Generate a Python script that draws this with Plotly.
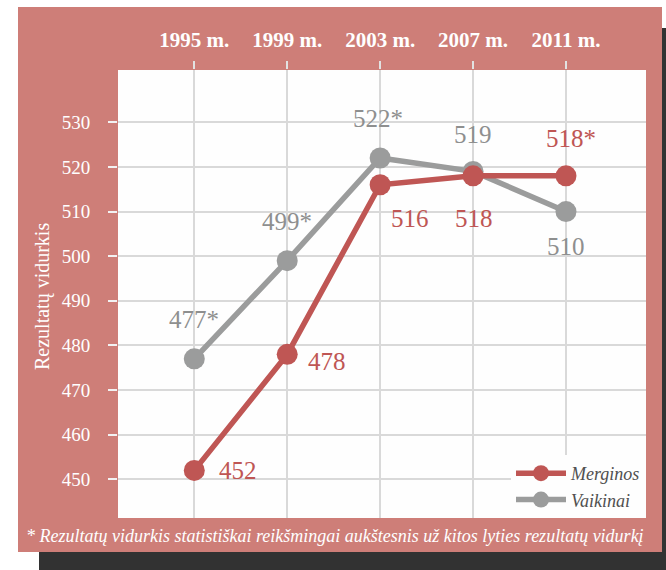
import plotly.graph_objects as go

years = ["1995 m.", "1999 m.", "2003 m.", "2007 m.", "2011 m."]
merginos = [452, 478, 516, 518, 518]
vaikinai = [477, 499, 522, 519, 510]
merginos_labels = ["452", "478", "516", "518", "518*"]
vaikinai_labels = ["477*", "499*", "522*", "519", "510"]
y_ticks = [450, 460, 470, 480, 490, 500, 510, 520, 530]

RED = "#BF5654"
GRAY = "#9B9C9C"
SALMON = "#CE7E78"
DARK = "#323232"
FONT = "Liberation Serif"

W, H = 666, 570
L, R, T, B = 118, 646, 70, 518
PW, PH = R - L, B - T


def px(x):
    return (x - L) / PW


def py(y):
    return (B - y) / PH


xi = list(range(len(years)))

fig = go.Figure()
fig.add_trace(go.Scatter(
    x=xi, y=vaikinai, name="Vaikinai", mode="lines+markers",
    line=dict(color=GRAY, width=5.5), marker=dict(color=GRAY, size=21),
    legendrank=2,
))
fig.add_trace(go.Scatter(
    x=xi, y=merginos, name="Merginos", mode="lines+markers",
    line=dict(color=RED, width=5.5), marker=dict(color=RED, size=21),
    legendrank=1,
))

# label offsets (pixels)
m_off = [(44, 0), (40, -7), (30, -34), (1, -43), (5, 37)]
v_off = [(0, 39), (0, 39), (-2, 40), (0, 37), (0, -35)]
annotations = []
for i, (v, t) in enumerate(zip(merginos, merginos_labels)):
    annotations.append(dict(x=i, y=v, xref="x", yref="y", text=t, showarrow=False,
                            xshift=m_off[i][0], yshift=m_off[i][1],
                            font=dict(family=FONT, size=25, color=RED)))
for i, (v, t) in enumerate(zip(vaikinai, vaikinai_labels)):
    annotations.append(dict(x=i, y=v, xref="x", yref="y", text=t, showarrow=False,
                            xshift=v_off[i][0], yshift=v_off[i][1],
                            font=dict(family=FONT, size=25, color="#8E8F8F")))

annotations.append(dict(x=px(42), y=py(297), xref="paper", yref="paper",
                        xanchor="center", yanchor="middle",
                        text="Rezultatų vidurkis", textangle=-90, showarrow=False,
                        font=dict(family=FONT, size=20, color="white")))
annotations.append(dict(x=px(335), y=py(536), xref="paper", yref="paper",
                        xanchor="center", yanchor="middle",
                        text="<i>* Rezultatų vidurkis statistiškai reikšmingai aukštesnis už kitos lyties rezultatų vidurkį</i>",
                        showarrow=False,
                        font=dict(family=FONT, size=18, color="white")))

shapes = [
    dict(type="rect", xref="paper", yref="paper", x0=px(39), x1=px(667), y0=py(571), y1=py(552),
         fillcolor=DARK, line=dict(width=0), layer="below"),
    dict(type="rect", xref="paper", yref="paper", x0=px(662), x1=px(667), y0=py(552), y1=py(28),
         fillcolor=DARK, line=dict(width=0), layer="below"),
    dict(type="rect", xref="paper", yref="paper", x0=px(18), x1=px(662), y0=py(552), y1=py(7),
         fillcolor=SALMON, line=dict(width=0), layer="below"),
    dict(type="rect", xref="paper", yref="paper", x0=0, x1=1, y0=0, y1=1,
         fillcolor="#FEFEFE", line=dict(width=0), layer="below"),
]

fig.update_layout(
    width=W, height=H,
    margin=dict(l=L, r=W - R, t=T, b=H - B, pad=0),
    paper_bgcolor="white", plot_bgcolor="#FEFEFE",
    showlegend=True,
    legend=dict(x=1, y=0, xanchor="right", yanchor="bottom", bgcolor="#FEFEFE",
                font=dict(family=FONT, size=18, color="#505050", style="italic"),
                itemwidth=50, tracegroupgap=0, borderwidth=0),
    shapes=shapes, annotations=annotations,
    xaxis=dict(side="top", range=[-0.821, 4.861], tickmode="array", tickvals=xi, ticktext=years,
               showgrid=True, gridcolor="#D9D9D9", gridwidth=2, zeroline=False,
               ticks="outside", ticklen=8, tickwidth=2, tickcolor="#E2E2E2",
               ticklabelstandoff=6,
               tickfont=dict(family=FONT, size=21, color="white", weight="bold")),
    yaxis=dict(range=[441.33, 541.72], tickmode="array", tickvals=y_ticks,
               showgrid=True, gridcolor="#D9D9D9", gridwidth=2, zeroline=False,
               ticks="outside", ticklen=9, tickwidth=2, tickcolor="#F2F2F2",
               ticklabelstandoff=14,
               tickfont=dict(family=FONT, size=19, color="white")),
    font=dict(family=FONT),
)

fig.write_html("out.html", config={"displayModeBar": False},
               post_script="document.body.style.margin='0';document.body.style.overflow='hidden';")
